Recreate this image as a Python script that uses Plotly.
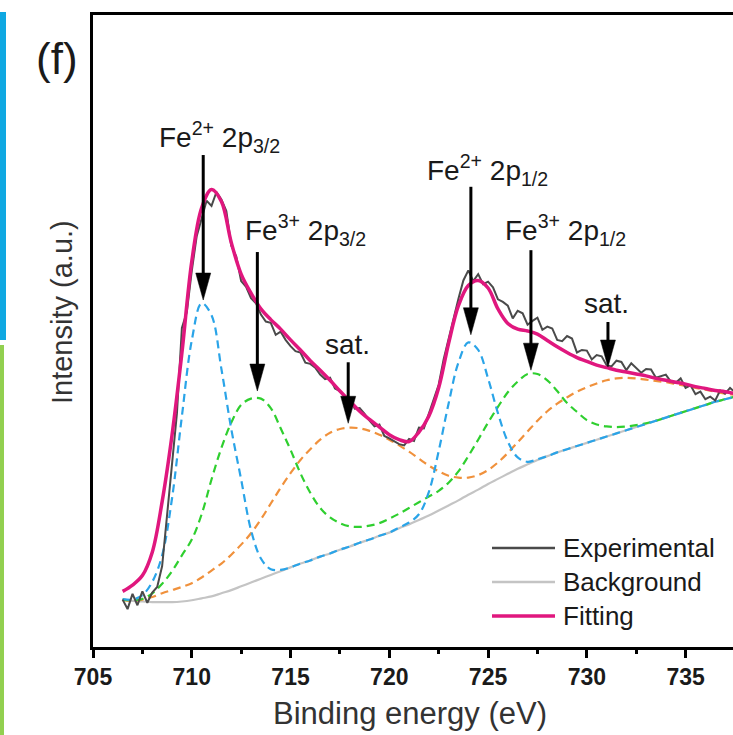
import plotly.graph_objects as go

# ---------------- data ----------------
model_energy = [706.5, 707.0, 707.5, 708.0, 708.5, 709.0, 709.5, 710.0, 710.5, 711.0,
                711.5, 712.0, 712.5, 713.0, 713.5, 714.0, 714.5, 715.0, 715.5, 716.0,
                716.5, 717.0, 717.5, 718.0, 718.5, 719.0, 719.5, 720.0, 720.5, 721.0,
                721.5, 722.0, 722.5, 723.0, 723.5, 724.0, 724.5, 725.0, 725.5, 726.0,
                726.5, 727.0, 727.5, 728.0, 728.5, 729.0, 729.5, 730.0, 730.5, 731.0,
                731.5, 732.0, 732.5, 733.0, 733.5, 734.0, 734.5, 735.0, 735.5, 736.0,
                736.5, 737.0, 737.5]

background = [7.5, 7.3, 7.2, 7.1, 7.1, 7.1, 7.2, 7.4, 7.7, 8.0,
              8.5, 9.0, 9.6, 10.2, 10.8, 11.4, 12.0, 12.6, 13.2, 13.7,
              14.3, 14.8, 15.4, 15.9, 16.5, 17.0, 17.6, 18.1, 18.8, 19.4,
              20.1, 20.8, 21.6, 22.4, 23.2, 24.1, 24.9, 25.8, 26.6, 27.4,
              28.2, 28.9, 29.6, 30.2, 30.8, 31.3, 31.8, 32.3, 32.8, 33.3,
              33.8, 34.3, 34.8, 35.3, 35.8, 36.3, 36.8, 37.3, 37.8, 38.3,
              38.8, 39.2, 39.6]

fe2_peaks = [7.6, 7.5, 8.2, 10.3, 14.5, 23.5, 36.5, 48.5, 54.4, 52.5,
             44.0, 34.5, 26.5, 18.5, 14.0, 12.3, 12.2, 12.6, 13.2, 13.7,
             14.3, 14.8, 15.4, 15.9, 16.5, 17.0, 17.6, 18.1, 18.9, 19.7,
             21.0, 24.5, 31.0, 38.5, 45.0, 48.2, 47.0, 42.5, 37.0, 32.5,
             30.0, 29.3, 29.7, 30.2, 30.8, 31.3, 31.8, 32.3, 32.8, 33.3,
             33.8, 34.3, 34.8, 35.3, 35.8, 36.3, 36.8, 37.3, 37.8, 38.3,
             38.8, 39.2, 39.6]

fe3_peaks = [7.5, 7.4, 7.6, 8.5, 10.0, 12.0, 14.5, 17.0, 21.0, 26.5,
             31.5, 35.5, 38.3, 39.3, 39.3, 37.8, 34.6, 31.2, 27.5, 24.4,
             22.0, 20.5, 19.6, 19.1, 19.0, 19.2, 19.6, 20.3, 21.1, 22.0,
             22.9, 23.8, 24.7, 26.0, 27.8, 30.2, 32.8, 35.5, 38.0, 40.3,
             42.0, 43.2, 43.2, 42.2, 40.5, 38.6, 37.2, 35.9, 35.2, 34.9,
             34.8, 34.9, 35.1, 35.4, 35.8, 36.3, 36.8, 37.3, 37.8, 38.3,
             38.8, 39.2, 39.6]

satellites = [7.4, 7.3, 7.5, 7.9, 8.5, 9.0, 9.5, 10.1, 11.0, 12.1,
              13.2, 14.6, 16.2, 18.0, 20.2, 22.7, 25.2, 27.5, 29.6, 31.3,
              32.8, 33.9, 34.5, 34.7, 34.6, 34.2, 33.6, 32.8, 31.9, 30.9,
              29.8, 28.7, 27.8, 27.1, 26.8, 26.8, 27.2, 28.0, 29.2, 30.7,
              32.4, 34.1, 35.8, 37.3, 38.5, 39.5, 40.4, 41.1, 41.7, 42.2,
              42.5, 42.6, 42.5, 42.3, 42.1, 41.9, 41.6, 41.3, 41.0, 40.7,
              40.4, 40.1, 39.9]

fitting = [8.8, 9.8, 11.3, 15.0, 23.0, 33.5, 46.5, 61.0, 69.5, 72.4,
           70.5, 64.0, 59.0, 56.0, 53.5, 51.8, 50.3, 48.6, 47.0, 45.3,
           43.8, 42.2, 40.5, 38.9, 37.3, 36.0, 34.8, 33.6, 32.8, 32.5,
           34.0, 36.5, 41.0, 48.0, 54.0, 57.2, 58.0, 56.8, 53.5, 51.2,
           50.3, 50.0, 49.5, 48.5, 47.5, 46.6, 45.8, 45.2, 44.6, 44.2,
           43.8, 43.5, 43.2, 42.9, 42.5, 42.2, 41.9, 41.6, 41.2, 40.9,
           40.6, 40.4, 40.1]

exp_energy = [706.5, 706.75, 707.0, 707.25, 707.5, 707.75, 708.0, 708.25, 708.5, 708.75,
              709.0, 709.25, 709.5, 709.75, 710.0, 710.25, 710.5, 710.75, 711.0, 711.25,
              711.5, 711.75, 712.0, 712.25, 712.5, 712.75, 713.0, 713.25, 713.5, 713.75,
              714.0, 714.25, 714.5, 714.75, 715.0, 715.25, 715.5, 715.75, 716.0, 716.25,
              716.5, 716.75, 717.0, 717.25, 717.5, 717.75, 718.0, 718.25, 718.5, 718.75,
              719.0, 719.25, 719.5, 719.75, 720.0, 720.25, 720.5, 720.75, 721.0, 721.25,
              721.5, 721.75, 722.0, 722.25, 722.5, 722.75, 723.0, 723.25, 723.5, 723.75,
              724.0, 724.25, 724.5, 724.75, 725.0, 725.25, 725.5, 725.75, 726.0, 726.25,
              726.5, 726.75, 727.0, 727.25, 727.5, 727.75, 728.0, 728.25, 728.5, 728.75,
              729.0, 729.25, 729.5, 729.75, 730.0, 730.25, 730.5, 730.75, 731.0, 731.25,
              731.5, 731.75, 732.0, 732.25, 732.5, 732.75, 733.0, 733.25, 733.5, 733.75,
              734.0, 734.25, 734.5, 734.75, 735.0, 735.25, 735.5, 735.75, 736.0, 736.25,
              736.5, 736.75, 737.0, 737.25, 737.5]

experimental = [7.5, 6.0, 8.4, 6.6, 8.8, 7.0, 8.6, 9.5, 12.8, 20.5,
                28.5, 37.0, 50.5, 53.0, 59.5, 65.0, 67.8, 70.6, 69.8, 72.0,
                70.8, 69.0, 63.5, 61.8, 57.9, 57.0, 55.2, 54.4, 52.6, 51.5,
                51.3, 49.4, 49.9, 48.6, 47.6, 46.8, 46.6, 45.0, 44.8, 44.2,
                43.1, 42.4, 42.6, 40.9, 40.5, 39.6, 39.4, 37.7, 37.8, 36.9,
                35.8, 34.9, 35.2, 33.4, 33.0, 32.6, 32.1, 31.9, 32.9, 32.6,
                34.7, 34.6, 37.0, 39.2, 41.5, 45.5, 48.8, 52.3, 55.1, 58.0,
                59.6, 57.9, 59.0, 57.4, 57.8, 56.9, 55.0, 54.6, 54.0, 52.0,
                53.2, 52.8, 51.0, 51.6, 52.1, 50.2, 50.7, 50.4, 48.6, 48.4,
                49.2, 48.8, 46.6, 47.0, 46.9, 45.5, 46.2, 46.0, 44.6, 44.4,
                45.3, 45.1, 43.8, 44.9, 44.2, 43.4, 44.0, 43.9, 42.6, 42.9,
                43.1, 42.0, 41.8, 42.5, 41.0, 41.4, 40.0, 40.4, 39.2, 39.6,
                39.0, 40.6, 40.1, 41.0, 40.3]

tick_values = [705, 710, 715, 720, 725, 730, 735]
legend_names = ["Experimental", "Background", "Fitting"]

# peak labels: (text, arrow x [eV], arrow tip y, arrow length px, label x, label y)
peak_labels = [
    ("Fe<sup>2+</sup> 2p<sub>3/2</sub>", 710.58, 54.9, 145, 711.41, 80.7),
    ("Fe<sup>3+</sup> 2p<sub>3/2</sub>", 713.32, 40.5, 139, 715.74, 66.0),
    ("sat.", 717.92, 35.4, 61, 717.86, 47.8),
    ("Fe<sup>2+</sup> 2p<sub>1/2</sub>", 724.13, 49.4, 148, 724.99, 75.5),
    ("Fe<sup>3+</sup> 2p<sub>1/2</sub>", 727.17, 43.8, 120, 728.94, 66.0),
    ("sat.", 731.07, 44.3, 45, 731.01, 54.4),
]

# ---------------- styles ----------------
C_EXP = "#4a4a4a"
C_BG = "#c4c4c4"
C_FIT = "#e0177e"
C_BLUE = "#2aa4e8"
C_GREEN = "#2fcf2f"
C_ORANGE = "#f0913c"
FONT = "Liberation Sans, Arial, sans-serif"

fig = go.Figure()
fig.add_trace(go.Scatter(x=model_energy, y=background, mode="lines",
                         line=dict(color=C_BG, width=2.2, shape="spline"), showlegend=False))
fig.add_trace(go.Scatter(x=model_energy, y=satellites, mode="lines",
                         line=dict(color=C_ORANGE, width=2.2, dash="8px,5px", shape="spline"), showlegend=False))
fig.add_trace(go.Scatter(x=model_energy, y=fe3_peaks, mode="lines",
                         line=dict(color=C_GREEN, width=2.2, dash="8px,5px", shape="spline"), showlegend=False))
fig.add_trace(go.Scatter(x=model_energy, y=fe2_peaks, mode="lines",
                         line=dict(color=C_BLUE, width=2.2, dash="8px,5px", shape="spline"), showlegend=False))
fig.add_trace(go.Scatter(x=exp_energy, y=experimental, mode="lines",
                         line=dict(color=C_EXP, width=2), showlegend=False))
fig.add_trace(go.Scatter(x=model_energy, y=fitting, mode="lines",
                         line=dict(color=C_FIT, width=3.5, shape="spline"), showlegend=False))

W, H = 733, 735
ML, MR, MT, MB = 93, 0, 15, 88
PW, PH = W - ML - MR, H - MT - MB


def px_x(px):
    return (px - ML) / PW


def px_y(py):
    return (H - MB - py) / PH


shapes = []
annotations = []

# arrows
for text, ax_, tip_y, length, lx, ly in peak_labels:
    shapes.append(dict(type="line", xref="x", yref="y", xsizemode="pixel", ysizemode="pixel",
                       xanchor=ax_, yanchor=tip_y, x0=0, x1=0, y0=20, y1=length,
                       line=dict(color="black", width=3)))
    shapes.append(dict(type="path", xref="x", yref="y", xsizemode="pixel", ysizemode="pixel",
                       xanchor=ax_, yanchor=tip_y, path="M -7.5 27 L 7.5 27 L 0 0 Z",
                       fillcolor="black", line=dict(color="black", width=0.5)))
    annotations.append(dict(x=lx, y=ly, xref="x", yref="y", text=text, showarrow=False,
                            xanchor="center", yanchor="middle",
                            font=dict(family=FONT, size=28, color="#1a1a1a")))

# custom legend
legend_colors = [C_EXP, C_BG, C_FIT]
legend_widths = [2.5, 2.5, 3.5]
legend_py = [548, 582, 616]
for name, col, lw, py in zip(legend_names, legend_colors, legend_widths, legend_py):
    shapes.append(dict(type="line", xref="paper", yref="paper",
                       x0=px_x(492), x1=px_x(555), y0=px_y(py), y1=px_y(py),
                       line=dict(color=col, width=lw)))
    annotations.append(dict(x=px_x(561), y=px_y(py), xref="paper", yref="paper", text=name,
                            showarrow=False, xanchor="left", yanchor="middle",
                            font=dict(family=FONT, size=26, color="#1a1a1a")))

# decorative side bars of the panel
shapes.append(dict(type="rect", xref="paper", yref="paper", x0=px_x(0), x1=px_x(6),
                   y0=px_y(340), y1=px_y(12), fillcolor="#0fa8e2", line=dict(width=0)))
shapes.append(dict(type="rect", xref="paper", yref="paper", x0=px_x(0), x1=px_x(4),
                   y0=px_y(735), y1=px_y(345), fillcolor="#92d050", line=dict(width=0)))

# panel label and axis titles
annotations.append(dict(x=px_x(57), y=px_y(58), xref="paper", yref="paper", text="(f)",
                        showarrow=False, xanchor="center", yanchor="middle",
                        font=dict(family=FONT, size=44, color="#1a1a1a")))
annotations.append(dict(x=px_x(410), y=px_y(714), xref="paper", yref="paper",
                        text="Binding energy (eV)", showarrow=False, xanchor="center",
                        yanchor="middle", font=dict(family=FONT, size=31, color="#333333")))
annotations.append(dict(x=px_x(62), y=px_y(312), xref="paper", yref="paper",
                        text="Intensity (a.u.)", showarrow=False, textangle=-90,
                        xanchor="center", yanchor="middle",
                        font=dict(family=FONT, size=29, color="#333333")))

fig.update_layout(
    width=W, height=H,
    margin=dict(l=ML, r=MR, t=MT, b=MB),
    paper_bgcolor="white", plot_bgcolor="white",
    showlegend=False,
    shapes=shapes, annotations=annotations,
    xaxis=dict(range=[705, 737.4], showgrid=False, zeroline=False,
               showline=True, linecolor="black", linewidth=2.5, mirror=True,
               tickmode="array", tickvals=tick_values,
               ticks="outside", ticklen=8, tickwidth=2.5, tickcolor="black",
               tickfont=dict(family=FONT, size=23, color="#1a1a1a", weight="bold"),
               minor=dict(dtick=2.5, tick0=705, ticks="outside", ticklen=4, tickwidth=2.5,
                          tickcolor="black", showgrid=False)),
    yaxis=dict(range=[0, 100], showgrid=False, zeroline=False, showline=True,
               linecolor="black", linewidth=2.5, showticklabels=False, ticks=""),
)

fig.write_html("out.html")
